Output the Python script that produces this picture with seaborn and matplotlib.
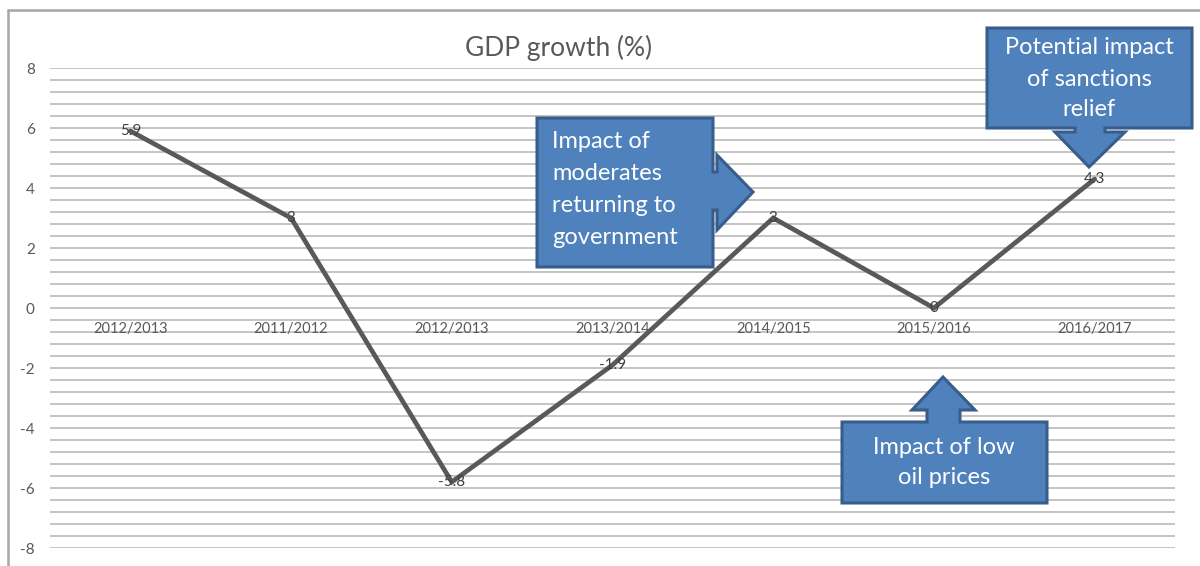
import matplotlib
matplotlib.use("Agg")
import matplotlib.pyplot as plt
from matplotlib.patches import Polygon
from matplotlib.ticker import MultipleLocator
import numpy as np
import pandas as pd
import seaborn as sns

# ---- data ----
categories = ["2012/2013", "2011/2012", "2012/2013", "2013/2014", "2014/2015", "2015/2016", "2016/2017"]
growth = [5.9, 3, -5.8, -1.9, 3, 0, 4.3]
value_labels = ["5.9", "3", "-5.8", "-1.9", "3", "0", "4.3"]
y_ticks = [-8, -6, -4, -2, 0, 2, 4, 6, 8]
title = "GDP growth (%)"
callout_moderates = ["Impact of", "moderates", "returning to", "government"]
callout_sanctions = ["Potential impact", "of sanctions", "relief"]
callout_oil = ["Impact of low", "oil prices"]

sns.set_theme(style="white")
plt.rcParams["font.family"] = ["Lato", "DejaVu Sans"]

W, H = 1200, 566
fig = plt.figure(figsize=(W / 100, H / 100), dpi=100)
fig.patch.set_facecolor("white")

def fx(x):
    return x / W

def fy(y):
    return 1 - y / H

# axes placement (pixels)
L, R, T, B = 50, 1175, 68, 548
ax = fig.add_axes([fx(L), fy(B), (R - L) / W, (B - T) / H])

df = pd.DataFrame({"pos": np.arange(len(categories)), "growth": growth})
sns.lineplot(data=df, x="pos", y="growth", ax=ax, color="#595959", linewidth=3.4,
             solid_joinstyle="miter", solid_capstyle="round", zorder=3)

ax.set_xlim(-0.5, len(categories) - 0.5)
ax.set_ylim(-8, 8)
ax.yaxis.set_major_locator(MultipleLocator(2))
ax.yaxis.set_minor_locator(MultipleLocator(0.4))
ax.set_yticks(y_ticks)
ax.set_yticklabels([str(v) for v in y_ticks])
ax.grid(axis="y", which="both", color="#BFBFBF", linewidth=1.3)
ax.set_axisbelow(True)
ax.set_xticks([])
ax.set_xlabel("")
ax.set_ylabel("")
ax.tick_params(axis="y", which="both", length=0, pad=11, labelsize=11, labelcolor="#595959")
for s in ax.spines.values():
    s.set_visible(False)

# category labels along the zero line
for i, c in enumerate(categories):
    ax.text(i, -0.7, c, ha="center", va="center", fontsize=10.5, color="#595959", zorder=4)

# data labels centred on points
for i, (v, lab) in enumerate(zip(growth, value_labels)):
    ax.text(i, v, lab, ha="center", va="center", fontsize=11, color="#404040", zorder=5)

# title
fig.text(fx(559), fy(48), title, ha="center", va="center", fontsize=19, color="#595959")

# chart frame (top & left)
fig.add_artist(plt.Line2D([fx(8), fx(1200)], [fy(10), fy(10)], color="#A6A6A6", linewidth=1.8))
fig.add_artist(plt.Line2D([fx(8), fx(8)], [fy(10), fy(566)], color="#A6A6A6", linewidth=1.8))

fill, edge = "#4F81BD", "#385D8A"

def callout(points):
    poly = Polygon([(fx(x), fy(y)) for x, y in points], closed=True, transform=fig.transFigure,
                   facecolor=fill, edgecolor=edge, linewidth=2.2, joinstyle="miter", zorder=10)
    fig.add_artist(poly)

fs = 17
# right-arrow callout
callout([(537, 118), (713, 118), (713, 172), (717, 172), (717, 155), (753, 192), (717, 230),
         (717, 210), (713, 210), (713, 267), (537, 267)])
for k, line in enumerate(callout_moderates):
    fig.text(fx(552), fy(142 + 32 * k), line, ha="left", va="center", fontsize=fs, color="white", zorder=11)

# down-arrow callout
callout([(987, 28), (1192, 28), (1192, 128), (1105, 128), (1105, 132), (1125, 132), (1089, 167),
         (1055, 132), (1075, 132), (1075, 128), (987, 128)])
for k, line in enumerate(callout_sanctions):
    fig.text(fx(1089), fy(48 + 31 * k), line, ha="center", va="center", fontsize=fs, color="white", zorder=11)

# up-arrow callout
callout([(842, 422), (927, 422), (927, 410), (912, 410), (943, 377), (975, 410), (960, 410),
         (960, 422), (1047, 422), (1047, 503), (842, 503)])
for k, line in enumerate(callout_oil):
    fig.text(fx(944), fy(447 + 31 * k), line, ha="center", va="center", fontsize=fs, color="white", zorder=11)

fig.savefig("out.png", dpi=100)
